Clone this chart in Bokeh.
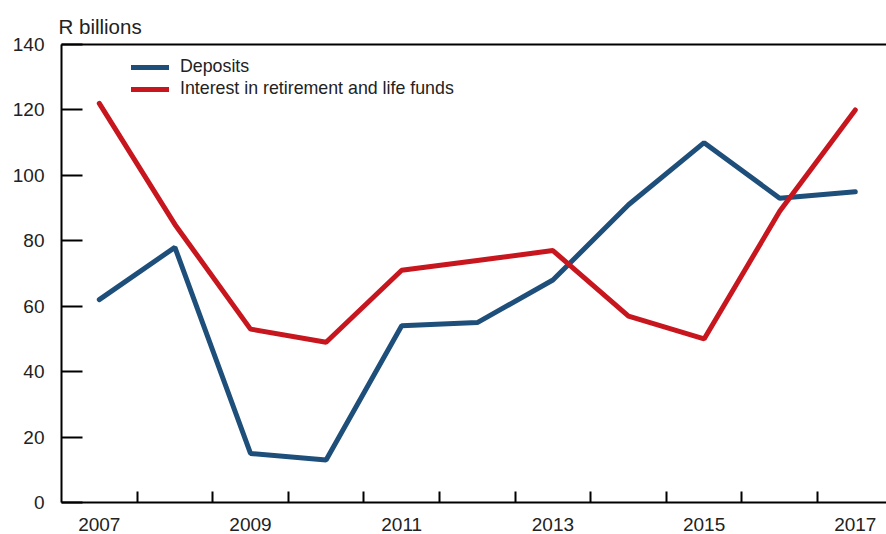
from bokeh.plotting import figure
from bokeh.models import FixedTicker, LinearAxis, Range1d, Legend, LegendItem
from bokeh.embed import file_html
from bokeh.resources import INLINE

# ---- data ----
years = [2007, 2008, 2009, 2010, 2011, 2012, 2013, 2014, 2015, 2016, 2017]
deposits = [62, 78, 15, 13, 54, 55, 68, 91, 110, 93, 95]
retirement = [122, 85, 53, 49, 71, 74, 77, 57, 50, 89, 120]
y_ticks = [0, 20, 40, 60, 80, 100, 120, 140]
x_label_years = [2007, 2009, 2011, 2013, 2015, 2017]
series_names = ["Deposits", "Interest in retirement and life funds"]

BLUE = "#1e4f7a"
RED = "#c8161e"
TEXT = "#222222"
FONT = "Liberation Sans"

xs = list(range(len(years)))
W, H = 886, 534
LEFT, TOP, BOTTOM = 61, 44, 32
frame_w = W - LEFT
unit = 75.6
x_end = -0.5 + frame_w / unit

p = figure(width=W, height=H, output_backend="svg", toolbar_location=None,
           x_range=Range1d(-0.5, x_end), y_range=Range1d(0, 140),
           min_border_left=LEFT, min_border_right=0,
           min_border_top=TOP, min_border_bottom=BOTTOM)

p.xgrid.visible = False
p.ygrid.visible = False
p.outline_line_color = None
p.background_fill_color = "white"
p.border_fill_color = "white"

# x axis: labels at category centres, tick marks between categories
xa = p.xaxis[0]
label_pos = [years.index(y) for y in x_label_years]
xa.ticker = FixedTicker(ticks=label_pos,
                        minor_ticks=[i + 0.5 for i in range(len(years) - 1)])
xa.major_label_overrides = {i: str(years[i]) for i in label_pos}
xa.major_tick_in = 0
xa.major_tick_out = 0
xa.minor_tick_in = 11
xa.minor_tick_out = 0
xa.minor_tick_line_width = 2
xa.minor_tick_line_color = "black"
xa.axis_line_width = 2
xa.axis_line_color = "black"
xa.major_label_standoff = 15
xa.major_label_text_font = FONT
xa.major_label_text_font_size = "19px"
xa.major_label_text_color = TEXT

ya = p.yaxis[0]
ya.ticker = FixedTicker(ticks=y_ticks)
ya.major_tick_in = 21
ya.major_tick_out = 0
ya.minor_tick_in = 0
ya.minor_tick_out = 0
ya.major_tick_line_width = 2
ya.major_tick_line_color = "black"
ya.axis_line_width = 2
ya.axis_line_color = "black"
ya.major_label_standoff = 17
ya.major_label_text_font = FONT
ya.major_label_text_font_size = "19px"
ya.major_label_text_color = TEXT

top_axis = LinearAxis(ticker=FixedTicker(ticks=[]), major_tick_in=0, major_tick_out=0,
                      minor_tick_in=0, minor_tick_out=0, major_label_standoff=0,
                      major_label_text_font_size="0px", axis_line_width=2,
                      axis_line_color="black")
p.add_layout(top_axis, "above")

p.title.text = "R billions"
p.title.text_font = FONT
p.title.text_font_size = "20.5px"
p.title.text_font_style = "normal"
p.title.text_color = TEXT
p.title.align = "left"
p.title.offset = -3
p.title.standoff = 14

r1 = p.line(xs, deposits, line_width=5, line_color=BLUE, line_cap="round")
r2 = p.line(xs, retirement, line_width=5, line_color=RED, line_cap="round")

frame_h = H - TOP - BOTTOM
legend = Legend(items=[LegendItem(label=series_names[0], renderers=[r1]),
                       LegendItem(label=series_names[1], renderers=[r2])],
                location=(70, frame_h - 14 - 41),
                label_text_font=FONT, label_text_font_size="17.8px",
                label_text_color=TEXT, label_height=20, glyph_height=20,
                glyph_width=38, label_standoff=11, spacing=1, padding=0, margin=0,
                border_line_color=None, background_fill_alpha=0)
p.add_layout(legend)

open("out.html", "w").write(file_html(p, INLINE))
